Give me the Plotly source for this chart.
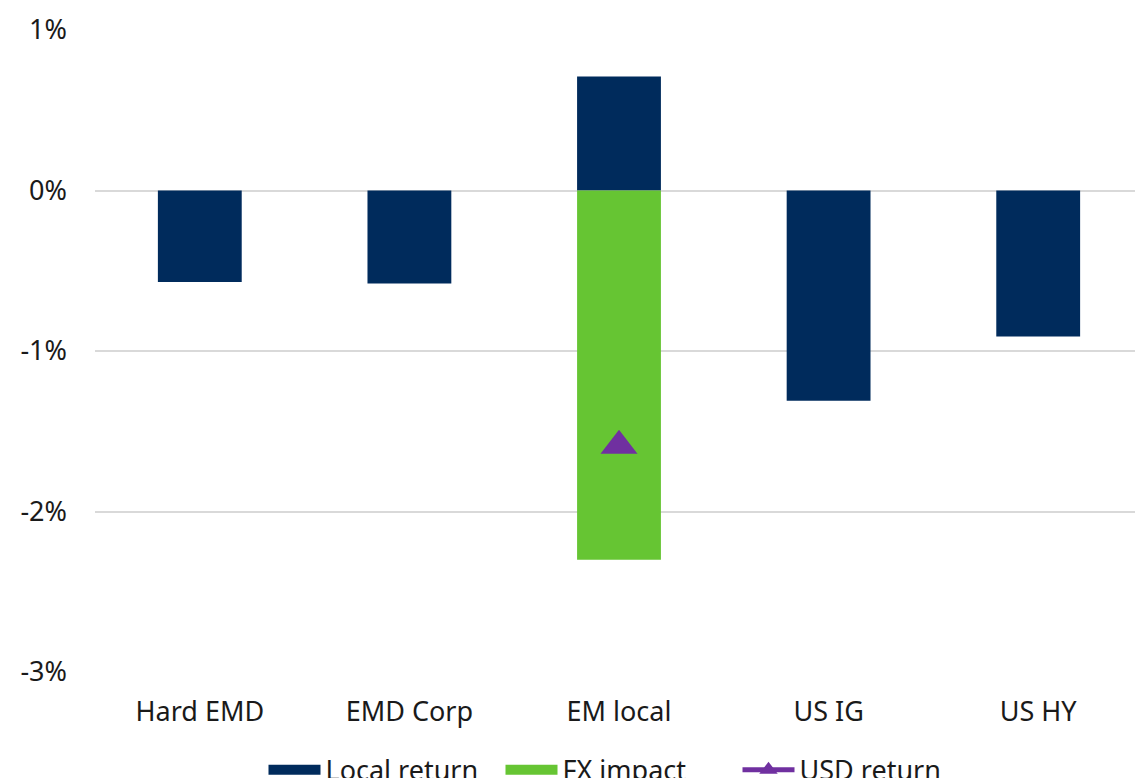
import plotly.graph_objects as go

categories = ["Hard EMD", "EMD Corp", "EM local", "US IG", "US HY"]
local_return = [-0.57, -0.58, 0.71, -1.31, -0.91]
fx_impact = [None, None, -2.30, None, None]
usd_return = [None, None, -1.59, None, None]

NAVY = "#002B5C"
GREEN = "#66C533"
PURPLE = "#7030A0"

fig = go.Figure()
fig.add_trace(go.Bar(x=categories, y=local_return, name="Local return", showlegend=False,
                     marker=dict(color=NAVY, line=dict(width=0))))
fig.add_trace(go.Bar(x=categories, y=fx_impact, name="FX impact", showlegend=False,
                     marker=dict(color=GREEN, line=dict(width=0))))
# legend-only entries with wide swatches, like the original
fig.add_trace(go.Scatter(x=[None], y=[None], name="Local return", mode="lines",
                         line=dict(color=NAVY, width=22)))
fig.add_trace(go.Scatter(x=[None], y=[None], name="FX impact", mode="lines",
                         line=dict(color=GREEN, width=22)))
fig.add_trace(go.Scatter(x=categories, y=usd_return, name="USD return",
                         mode="lines+markers",
                         line=dict(color=PURPLE, width=5),
                         marker=dict(symbol="triangle-up", size=32, color=PURPLE)))

# the page body adds an 8px offset, margins compensate for it
fig.update_layout(
    width=1143, height=778,
    barmode="relative", bargap=0.6,
    plot_bgcolor="white", paper_bgcolor="white",
    font=dict(family="Noto Sans", size=27, color="#1a1a1a"),
    margin=dict(l=87, r=8, t=22, b=114, autoexpand=False),
    showlegend=True,
    legend=dict(orientation="h", x=0.5, xanchor="center", y=-0.153, yanchor="middle",
                font=dict(size=27), itemwidth=52, traceorder="normal",
                entrywidth=170, entrywidthmode="pixels"),
    xaxis=dict(showgrid=False, showline=False, ticks="", ticklabelstandoff=21,
               automargin=False),
    yaxis=dict(range=[-3, 1], tickvals=[1, 0, -1, -2, -3],
               ticktext=["1%", "0%", "-1%", "-2%", "-3%"],
               showgrid=True, gridcolor="#D9D9D9", gridwidth=2,
               zeroline=True, zerolinecolor="#D9D9D9", zerolinewidth=2,
               showline=False, ticks="", ticklabelstandoff=27, automargin=False),
)

fig.write_html("out.html")
